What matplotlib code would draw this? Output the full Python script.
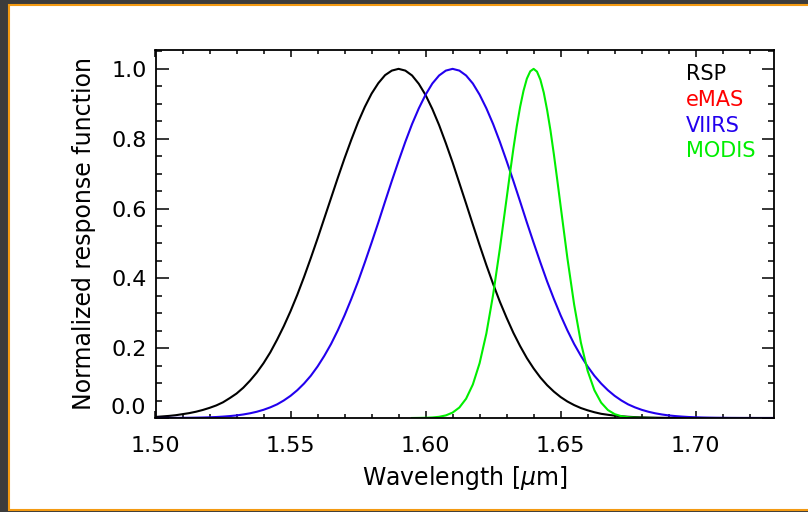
import matplotlib
matplotlib.use("Agg")
import matplotlib.pyplot as plt
from matplotlib.patches import Rectangle

# wavelength grid (um) for RSP and VIIRS, values every 0.0025
wl = [1.5000, 1.5025, 1.5050, 1.5075, 1.5100, 1.5125, 1.5150, 1.5175, 1.5200, 1.5225,
      1.5250, 1.5275, 1.5300, 1.5325, 1.5350, 1.5375, 1.5400, 1.5425, 1.5450, 1.5475,
      1.5500, 1.5525, 1.5550, 1.5575, 1.5600, 1.5625, 1.5650, 1.5675, 1.5700, 1.5725,
      1.5750, 1.5775, 1.5800, 1.5825, 1.5850, 1.5875, 1.5900, 1.5925, 1.5950, 1.5975,
      1.6000, 1.6025, 1.6050, 1.6075, 1.6100, 1.6125, 1.6150, 1.6175, 1.6200, 1.6225,
      1.6250, 1.6275, 1.6300, 1.6325, 1.6350, 1.6375, 1.6400, 1.6425, 1.6450, 1.6475,
      1.6500, 1.6525, 1.6550, 1.6575, 1.6600, 1.6625, 1.6650, 1.6675, 1.6700, 1.6725,
      1.6750, 1.6775, 1.6800, 1.6825, 1.6850, 1.6875, 1.6900, 1.6925, 1.6950, 1.6975,
      1.7000, 1.7025, 1.7050, 1.7075, 1.7100, 1.7125, 1.7150, 1.7175, 1.7200, 1.7225,
      1.7250, 1.7275, 1.7300]

rsp = [0.003, 0.0045, 0.006, 0.008, 0.011, 0.014, 0.018, 0.023, 0.029, 0.036,
       0.045, 0.057, 0.070, 0.0867, 0.107, 0.130, 0.157, 0.188, 0.224, 0.263,
       0.306, 0.353, 0.404, 0.458, 0.514, 0.572, 0.630, 0.688, 0.744, 0.797,
       0.847, 0.891, 0.929, 0.959, 0.982, 0.995, 1.000, 0.995, 0.981, 0.957,
       0.925, 0.885, 0.839, 0.787, 0.732, 0.673, 0.614, 0.554, 0.495, 0.438,
       0.384, 0.333, 0.287, 0.244, 0.206, 0.1716, 0.142, 0.116, 0.094, 0.0756,
       0.060, 0.0473, 0.037, 0.0285, 0.022, 0.0165, 0.012, 0.0092, 0.0067, 0.0049,
       0.0035, 0.0025, 0.0018, 0.0013, 0.0009, 0.0006, 0.0004, 0.0003, 0.0002, 0.0001,
       0.0001, 0.0, 0.0, 0.0, 0.0, 0.0, 0.0, 0.0, 0.0, 0.0,
       0.0, 0.0, 0.0]

viirs = [0.0001, 0.0001, 0.0002, 0.0003, 0.0005, 0.0007, 0.0010, 0.0014, 0.0020, 0.0028,
         0.0040, 0.0055, 0.0074, 0.0101, 0.0135, 0.0179, 0.0235, 0.0305, 0.039, 0.0502,
         0.0635, 0.0796, 0.0987, 0.121, 0.1475, 0.178, 0.212, 0.251, 0.294, 0.341,
         0.391, 0.4455, 0.502, 0.560, 0.620, 0.679, 0.736, 0.791, 0.842, 0.887,
         0.926, 0.958, 0.981, 0.995, 1.000, 0.995, 0.981, 0.958, 0.926, 0.887,
         0.842, 0.791, 0.736, 0.679, 0.620, 0.560, 0.502, 0.4455, 0.391, 0.341,
         0.294, 0.251, 0.212, 0.178, 0.1475, 0.121, 0.0987, 0.0796, 0.0635, 0.0502,
         0.039, 0.0305, 0.0235, 0.0179, 0.0135, 0.0101, 0.0074, 0.0055, 0.0040, 0.0028,
         0.0020, 0.0014, 0.0010, 0.0007, 0.0005, 0.0003, 0.0002, 0.0001, 0.0001, 0.0,
         0.0, 0.0, 0.0]

# MODIS band is narrow, read on a finer grid
wl_modis = [1.5950, 1.6000, 1.6025, 1.6050, 1.6075, 1.6100, 1.6125, 1.6150, 1.6175, 1.6200,
            1.6225, 1.6250, 1.6275, 1.6300, 1.63125, 1.6325, 1.63375, 1.6350, 1.63625, 1.6375,
            1.63875, 1.6400, 1.64125, 1.6425, 1.64375, 1.6450, 1.64625, 1.6475, 1.64875, 1.6500,
            1.6525, 1.6550, 1.6575, 1.6600, 1.6625, 1.6650, 1.6675, 1.6700, 1.6725, 1.6750,
            1.6775, 1.6800, 1.6850]
modis = [0.0, 0.0006, 0.0015, 0.0034, 0.0075, 0.0155, 0.030, 0.0553, 0.096, 0.157,
         0.242, 0.353, 0.485, 0.629, 0.701, 0.771, 0.835, 0.891, 0.937, 0.972,
         0.993, 1.000, 0.992, 0.969, 0.932, 0.882, 0.823, 0.755, 0.682, 0.607,
         0.458, 0.325, 0.216, 0.135, 0.0796, 0.044, 0.0228, 0.0111, 0.0051, 0.0022,
         0.0009, 0.0003, 0.0]

names = ["RSP", "eMAS", "VIIRS", "MODIS"]
colors = ["black", "#ff0000", "#2200ee", "#00ee00"]

fig = plt.figure(figsize=(8.08, 5.12), dpi=100)
fig.patch.set_facecolor("#3c3c3c")
# white panel with the orange frame
fig.patches.append(Rectangle((8.5 / 808, 2 / 512), 1.1, 505 / 512, transform=fig.transFigure,
                             facecolor="white", edgecolor="#f39a12", linewidth=1.5, zorder=-10))

ax = fig.add_axes([155.5 / 808, (512 - 418) / 512, 618.5 / 808, 368 / 512])
ax.plot(wl, rsp, color=colors[0], lw=1.5)
ax.plot(wl, viirs, color=colors[2], lw=1.5)
ax.plot(wl_modis, modis, color=colors[3], lw=1.5)

ax.set_xlim(1.50, 1.729)
ax.set_ylim(0, 1.054)
ax.set_xticks([1.50, 1.55, 1.60, 1.65, 1.70])
ax.set_xticks([1.50 + 0.01 * i for i in range(23)], minor=True)
ax.set_yticks([0.0, 0.2, 0.4, 0.6, 0.8, 1.0])
ax.set_yticks([0.05 * i for i in range(22)], minor=True)
ax.xaxis.set_major_formatter(matplotlib.ticker.FormatStrFormatter("%.2f"))
ax.yaxis.set_major_formatter(matplotlib.ticker.FormatStrFormatter("%.1f"))

ax.tick_params(which="both", direction="in", top=True, right=True, width=1.1,
               labelsize=16)
ax.tick_params(axis="x", which="major", length=5, pad=13)
ax.tick_params(axis="x", which="minor", length=3)
ax.tick_params(axis="y", which="major", length=9, pad=6.5)
ax.tick_params(axis="y", which="minor", length=4.5)
for s in ax.spines.values():
    s.set_linewidth(1.3)

# IDL lifts the bottom label off the x axis
ax.yaxis.get_major_ticks()[0].label1.set_verticalalignment("bottom")

ax.set_xlabel(r"Wavelength [$\mu$m]", fontsize=17, labelpad=6)
ax.set_ylabel("Normalized response function", fontsize=17, labelpad=11)

base = [80, 106, 132, 157]
for name, c, py in zip(names, colors, base):
    ax.text((686 - 155.5) / 618.5, (418 - py) / 368, name, color=c, fontsize=15,
            transform=ax.transAxes, ha="left", va="baseline")

fig.savefig("out.png", dpi=100, facecolor=fig.get_facecolor())
